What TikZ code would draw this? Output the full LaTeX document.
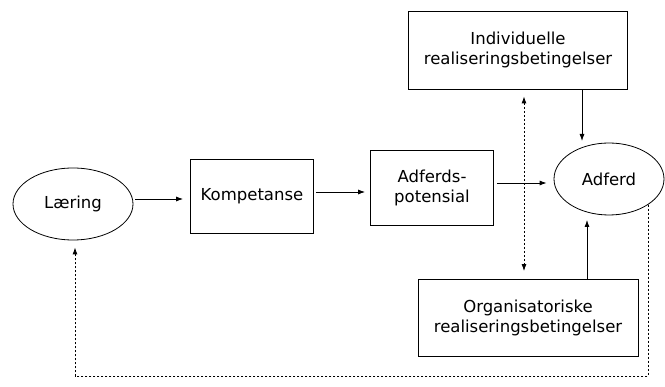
\documentclass[tikz,border=0pt]{standalone}
\usepackage{fontspec}
\setmainfont{DejaVu Sans}
\usetikzlibrary{arrows.meta,shapes.geometric,calc}
\begin{document}
\begin{tikzpicture}[x=1pt,y=-1pt,
  every node/.style={font=\fontsize{16.5}{20}\selectfont, align=center, inner sep=0pt},
  oval/.style={draw, ellipse, line width=0.8pt},
  box/.style={draw, rectangle, line width=0.8pt},
  flow/.style={line width=0.8pt, -{Latex[length=7pt,width=5pt]}},
  dots/.style={line width=0.9pt, dash pattern=on 2pt off 2pt, -{Latex[length=7pt,width=5pt]}}]
\useasboundingbox (0,0) rectangle (665,387);

% nodes
\node[oval, minimum width=120pt, minimum height=72pt] (laering) at (73,204) {Læring};
\node[box, minimum width=123pt, minimum height=74pt] (komp) at (252,196) {Kompetanse};
\node[box, minimum width=123pt, minimum height=75pt] (pot) at (432,188) {Adferds-\\potensial};
\node[oval, minimum width=110pt, minimum height=72pt] (adferd) at (609,179) {Adferd};
\node[box, minimum width=219pt, minimum height=78pt] (indiv) at (518,50) {Individuelle\\realiseringsbetingelser};
\node[box, minimum width=220pt, minimum height=77pt] (org) at (528,318) {Organisatoriske\\realiseringsbetingelser};

% main chain
\draw[flow, shorten <=2pt, shorten >=7pt] (laering.east |- 0,199) -- (komp.west |- 0,199);
\draw[flow, shorten <=2pt, shorten >=5pt] (komp.east |- 0,192) -- (pot.west |- 0,192);
\draw[flow, shorten <=3pt, shorten >=7pt] (pot.east |- 0,183) -- (adferd.west |- 0,183);

% conditions acting on behaviour
\draw[flow, shorten >=6pt] (indiv.south -| 582,0) -- (582,147);
\draw[flow, shorten >=6pt] (org.north -| 587,0) -- (587,214);

% link between the two kinds of conditions
\draw[dots, {Latex[length=7pt,width=5pt]}-{Latex[length=7pt,width=5pt]}, shorten <=7pt, shorten >=8pt]
  (indiv.south -| 524,0) -- (org.north -| 524,0);

% feedback from behaviour to learning
\coordinate (fbr) at (648,376);
\coordinate (fbl) at (75,376);
\draw[dots, shorten >=7pt] (adferd.south east) -- (adferd.south east |- fbr) -- (fbl) -- (fbl |- laering.south);
\end{tikzpicture}
\end{document}
